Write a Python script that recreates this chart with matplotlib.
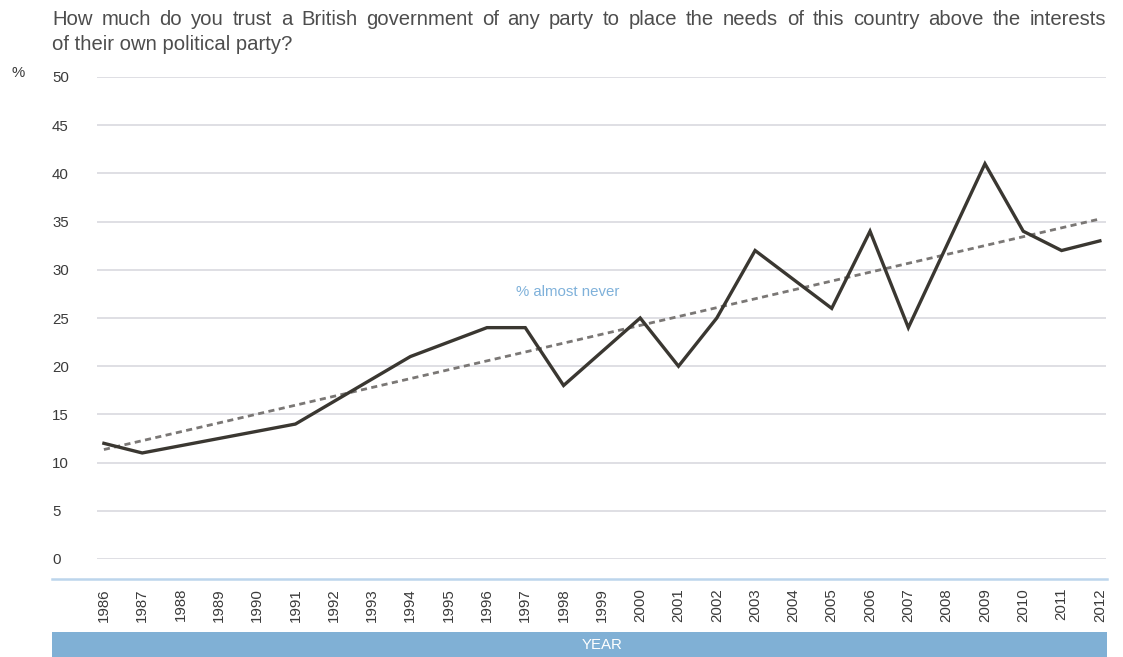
import matplotlib.pyplot as plt
import numpy as np

# survey years with a value (gaps are joined by the line)
years = [1986, 1987, 1991, 1994, 1996, 1997, 1998, 2000, 2001, 2002, 2003,
         2005, 2006, 2007, 2009, 2010, 2011, 2012]
almost_never = [12, 11, 14, 21, 24, 24, 18, 25, 20, 25, 32,
                26, 34, 24, 41, 34, 32, 33]
tick_years = list(range(1986, 2013))
y_ticks = [0, 5, 10, 15, 20, 25, 30, 35, 40, 45, 50]

title_line1 = ("How much do you trust a British government of any party to place "
               "the needs of this country above the interests")
title_line2 = "of their own political party?"

plt.rcParams['font.family'] = ['Liberation Sans', 'DejaVu Sans']

W, H = 1123, 657
fig = plt.figure(figsize=(W / 100, H / 100), dpi=100)

# axes box in pixels: x 97..1106, y 77..559
ax = fig.add_axes([97 / W, (H - 559) / H, (1106 - 97) / W, (559 - 77) / H])

ax.plot(years, almost_never, color='#3a3731', lw=2.4, solid_joinstyle='miter', zorder=3)

# linear trend like the spreadsheet one
coef = np.polyfit(years, almost_never, 1)
trend_x = np.array([years[0], years[-1]])
ax.plot(trend_x, np.polyval(coef, trend_x), color='#7a7775', lw=2.0,
        linestyle=(0, (2.2, 1.6)), zorder=2)

ax.set_xlim(1985.82, 2012.16)
ax.set_ylim(0, 50)
ax.set_yticks(y_ticks)
ax.set_yticklabels([str(v) for v in y_ticks], ha='left')
ax.set_xticks(tick_years)
ax.set_xticklabels([str(y) for y in tick_years], rotation=90, va='top')
ax.tick_params(axis='y', length=0, pad=45 * 0.72, labelsize=10.8, labelcolor='#3a3a3a')
ax.tick_params(axis='x', length=0, pad=29 * 0.72, labelsize=10.8, labelcolor='#3a3a3a')
ax.grid(axis='y', color='#dcdce2', lw=1.3)
ax.set_axisbelow(True)
for s in ax.spines.values():
    s.set_visible(False)

ax.text(1998.1, 27.7, '% almost never', color='#7fb1da', fontsize=10.8,
        ha='center', va='center')

# blue baseline under the plot and the YEAR band
fig.add_artist(plt.Line2D([52 / W, 1107 / W], [(H - 579) / H] * 2,
                          color='#bcd5ec', lw=1.8))
fig.add_artist(plt.Rectangle((52 / W, 0), (1107 - 52) / W, (657 - 632) / H,
                             color='#80b0d5', lw=0))
fig.text(602 / W, (H - 645) / H, 'YEAR', color='white', fontsize=10.8,
         ha='center', va='center')

fig.text(12 / W, (H - 73) / H, '%', color='#3a3a3a', fontsize=10.8,
         ha='left', va='center')

# title: first line justified between x=52 and x=1106 like the original
title_kw = dict(color='#4d4d4d', fontsize=14.6, ha='left', va='baseline')
renderer = fig.canvas.get_renderer()
words = title_line1.split()
widths = []
for w in words:
    t = fig.text(0, 0, w, **title_kw)
    widths.append(t.get_window_extent(renderer).width)
    t.remove()
gap = (1106 - 52 - sum(widths)) / (len(words) - 1)
x = 52
for w, wd in zip(words, widths):
    fig.text(x / W, (H - 25) / H, w, **title_kw)
    x += wd + gap
fig.text(52 / W, (H - 50) / H, title_line2, **title_kw)

fig.savefig('out.png', dpi=100)
